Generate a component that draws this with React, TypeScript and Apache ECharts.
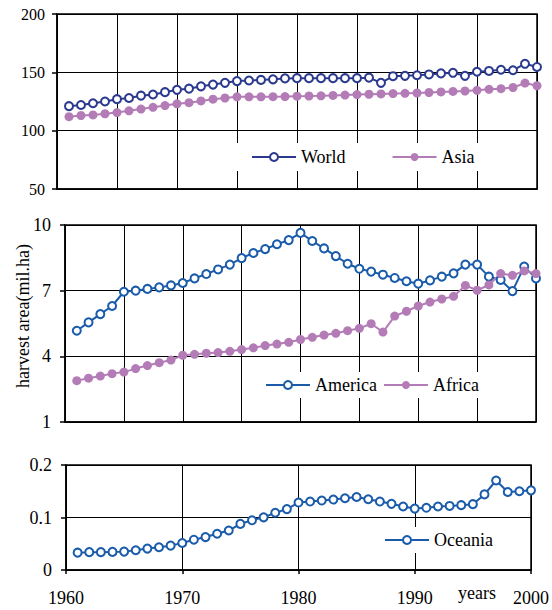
import React, { useEffect, useRef } from "react";
import * as echarts from "echarts";

const years = [
  1961, 1962, 1963, 1964, 1965, 1966, 1967, 1968, 1969, 1970,
  1971, 1972, 1973, 1974, 1975, 1976, 1977, 1978, 1979, 1980,
  1981, 1982, 1983, 1984, 1985, 1986, 1987, 1988, 1989, 1990,
  1991, 1992, 1993, 1994, 1995, 1996, 1997, 1998, 1999, 2000,
];

const world = [
  121, 122, 123.5, 125, 127, 128, 130, 131, 133, 135,
  136, 138, 139.5, 141, 142.5, 143, 143.5, 144, 144.8, 145,
  145, 145, 145, 145, 145, 145.4, 141, 146.7, 147, 147.5,
  148.2, 149.1, 149.6, 147, 150.5, 151.2, 152.2, 151.8, 157.3, 154.6,
];

const asia = [
  112, 113, 113.5, 114.5, 115.5, 117, 118.5, 120, 121.5, 123,
  124, 125.5, 127, 128, 129, 129, 129, 129.1, 129.2, 129.6,
  129.7, 129.9, 130.2, 130.5, 130.9, 131.2, 131.5, 131.8, 132, 132.3,
  132.7, 133.2, 133.6, 134, 134.6, 135.4, 136, 137, 140.8, 138.5,
];

const america = [
  5.17, 5.55, 5.93, 6.3, 6.95, 7.0, 7.08, 7.15, 7.24, 7.35,
  7.56, 7.76, 7.97, 8.19, 8.49, 8.72, 8.9, 9.12, 9.31, 9.64,
  9.27, 8.93, 8.58, 8.23, 8.0, 7.87, 7.73, 7.58, 7.43, 7.32,
  7.47, 7.64, 7.79, 8.19, 8.19, 7.64, 7.49, 6.98, 8.1, 7.56,
];

const africa = [
  2.89, 3.0, 3.1, 3.21, 3.28, 3.44, 3.58, 3.71, 3.83, 4.05,
  4.09, 4.14, 4.17, 4.23, 4.31, 4.39, 4.49, 4.56, 4.64, 4.77,
  4.87, 4.97, 5.05, 5.17, 5.28, 5.49, 5.11, 5.84, 6.06, 6.3,
  6.48, 6.62, 6.74, 7.24, 7.02, 7.26, 7.78, 7.7, 7.9, 7.78,
];

const oceania = [
  0.033, 0.034, 0.034, 0.0345, 0.035, 0.0376, 0.0408, 0.0433, 0.0464, 0.0514,
  0.0577, 0.0627, 0.069, 0.0752, 0.0878, 0.0947, 0.1003, 0.109, 0.116, 0.1285,
  0.1304, 0.1323, 0.1342, 0.1367, 0.139, 0.1348, 0.1304, 0.126, 0.121, 0.117,
  0.1185, 0.121, 0.122, 0.1235, 0.1254, 0.144, 0.1705, 0.1486, 0.15, 0.1517,
];

const middleTicks = [1, 4, 7, 10];
const yTitle = "harvest area(mil.ha)";
const xTitle = "years";

const NAVY = "#2B3A8E";
const BLUE = "#1A5BAA";
const MAUVE = "#B47CB7";
const FONT = "Liberation Serif";

const pairs = (vals: number[]) => years.map((y, i) => [y, vals[i]]);

export default function App() {
  const ref = useRef<HTMLDivElement>(null);
  useEffect(() => {
    if (!ref.current) return;
    const chart = echarts.init(ref.current, undefined, { renderer: "svg" });

    const gridBase = {
      show: true,
      borderColor: "#000",
      borderWidth: 1.5,
      backgroundColor: "#fff",
    };
    const split = { show: true, lineStyle: { color: "#000", width: 1 } };
    const axLine = { show: true, lineStyle: { color: "#000", width: 1.5 } };
    const lbl = (size: number, margin: number) => ({
      show: true,
      fontSize: size,
      fontFamily: FONT,
      color: "#000",
      margin,
      formatter: (v: number) => String(v),
    });
    const tick = { show: true, length: 5, inside: false, lineStyle: { color: "#000", width: 1.5 } };

    const legendBase = {
      orient: "horizontal" as const,
      itemWidth: 44,
      itemHeight: 10,
      backgroundColor: "#fff",
      textStyle: { fontSize: 18, fontFamily: FONT, color: "#000" },
    };

    const lineSeries = (
      name: string,
      vals: number[],
      idx: number,
      color: string,
      filled: boolean
    ) => ({
      name,
      type: "line",
      xAxisIndex: idx,
      yAxisIndex: idx,
      data: pairs(vals),
      symbol: filled ? "circle" : "emptyCircle",
      symbolSize: filled ? 9 : 8,
      showSymbol: true,
      lineStyle: { color, width: 2 },
      itemStyle: { color, borderColor: color, borderWidth: filled ? 0 : 2 },
      emphasis: { disabled: true },
    });

    chart.setOption({
      animation: false,
      backgroundColor: "#fff",
      grid: [
        { ...gridBase, left: 57, top: 14, width: 480, height: 175 },
        { ...gridBase, left: 65, top: 225, width: 471, height: 197 },
        { ...gridBase, left: 66, top: 465, width: 470, height: 105 },
      ],
      xAxis: [
        {
          gridIndex: 0, type: "value", min: 1960, max: 2000, interval: 5,
          axisLabel: { show: false }, axisTick: { show: false },
          axisLine: axLine, splitLine: split,
        },
        {
          gridIndex: 1, type: "value", min: 1960, max: 2000, interval: 5,
          axisLabel: { show: false }, axisTick: { show: false },
          axisLine: axLine, splitLine: split,
        },
        {
          gridIndex: 2, type: "value", min: 1960, max: 2000, interval: 10,
          axisLabel: lbl(18, 19), axisTick: { ...tick, length: 4 },
          axisLine: axLine, splitLine: split,
        },
      ],
      yAxis: [
        {
          gridIndex: 0, type: "value", min: 50, max: 200, interval: 50,
          axisLabel: lbl(16, 12), axisTick: tick, axisLine: axLine, splitLine: split,
        },
        {
          gridIndex: 1, type: "value", min: 1, max: 10,
          axisLabel: { ...lbl(18, 14), customValues: middleTicks },
          axisTick: { ...tick, customValues: middleTicks },
          axisLine: axLine, splitLine: split,
        },
        {
          gridIndex: 2, type: "value", min: 0, max: 0.2, interval: 0.1,
          axisLabel: lbl(18, 14), axisTick: tick, axisLine: axLine, splitLine: split,
        },
      ],
      legend: [
        {
          ...legendBase, data: ["World", "Asia"], left: 233, top: 143,
          itemGap: 46, padding: [5, 14, 5, 18],
        },
        {
          ...legendBase, data: ["America", "Africa"], left: 252, top: 372,
          itemGap: 6, padding: [4, 12, 4, 13],
        },
        {
          ...legendBase, data: ["Oceania"], left: 372, top: 527,
          padding: [4, 12, 4, 12],
        },
      ],
      graphic: [
        {
          type: "text",
          x: 23,
          y: 316,
          rotation: Math.PI / 2,
          style: {
            text: yTitle,
            fontSize: 18,
            fontFamily: FONT,
            fill: "#000",
            align: "center",
            verticalAlign: "middle",
          },
        },
        {
          type: "text",
          x: 458,
          y: 584,
          style: { text: xTitle, fontSize: 18, fontFamily: FONT, fill: "#000" },
        },
      ],
      series: [
        lineSeries("World", world, 0, NAVY, false),
        lineSeries("Asia", asia, 0, MAUVE, true),
        lineSeries("America", america, 1, BLUE, false),
        lineSeries("Africa", africa, 1, MAUVE, true),
        lineSeries("Oceania", oceania, 2, BLUE, false),
      ],
    });
    return () => chart.dispose();
  }, []);

  return (
    <div
      ref={ref}
      style={{ position: "absolute", left: 0, top: 0, width: 552, height: 610, background: "#fff" }}
    />
  );
}
